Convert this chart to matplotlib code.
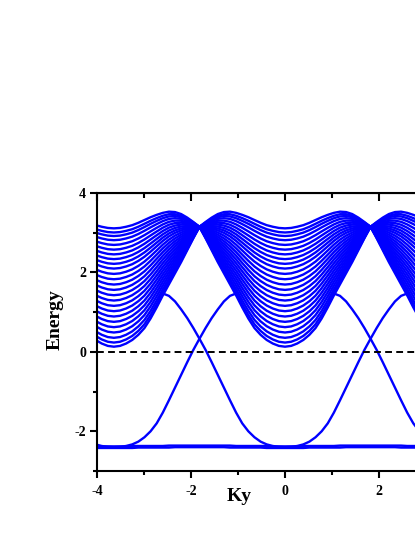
import numpy as np
import matplotlib
matplotlib.use("Agg")
import matplotlib.pyplot as plt

plt.rcParams['font.family'] = 'serif'
plt.rcParams['font.serif'] = ['Liberation Serif', 'DejaVu Serif']
plt.rcParams['font.weight'] = 'bold'
plt.rcParams['axes.unicode_minus'] = False

# one period of the ribbon bands (ky period ~3.64), read on half a period
period = 3.64
k_half = np.array([0.00, 0.13, 0.26, 0.39, 0.52, 0.65, 0.78, 0.91, 1.04, 1.17, 1.30, 1.43, 1.56, 1.69, 1.82])
top_half = np.array([3.11, 3.12, 3.15, 3.19, 3.25, 3.32, 3.39, 3.45, 3.50, 3.53, 3.52, 3.47, 3.38, 3.27, 3.15])
bot_half = np.array([0.13, 0.15, 0.21, 0.30, 0.43, 0.60, 0.84, 1.12, 1.42, 1.70, 1.98, 2.26, 2.56, 2.86, 3.15])
flat_hi_half = np.array([-2.38, -2.38, -2.38, -2.37, -2.37, -2.37, -2.37, -2.37, -2.37, -2.36, -2.36, -2.36, -2.36, -2.36, -2.36])
flat_lo_half = np.array([-2.42, -2.42, -2.42, -2.42, -2.41, -2.41, -2.41, -2.41, -2.41, -2.41, -2.40, -2.40, -2.40, -2.40, -2.40])

# position of each bulk band between lowest and highest band at a given ky
band_frac = [0.0, 0.035, 0.075, 0.12, 0.165, 0.21, 0.255, 0.30, 0.345, 0.39, 0.435, 0.48,
             0.525, 0.57, 0.615, 0.66, 0.70, 0.74, 0.78, 0.82, 0.86, 0.90, 0.935, 0.965, 1.0]

# edge state, energy vs distance from its minimum
d_edge = np.array([0.00, 0.13, 0.26, 0.39, 0.52, 0.65, 0.78, 0.91, 1.04, 1.17, 1.30,
                   1.43, 1.56, 1.69, 1.82, 1.95, 2.08, 2.21, 2.34, 2.47, 2.60])
e_edge = np.array([-2.40, -2.39, -2.37, -2.33, -2.26, -2.15, -2.00, -1.80, -1.53, -1.22, -0.90,
                   -0.58, -0.26, 0.05, 0.33, 0.60, 0.85, 1.07, 1.27, 1.41, 1.47])

xticks = [-4, -2, 0, 2, 4]
xticklabels = ['-4', '-2', '0', '2', '']
yticks = [-2, 0, 2, 4]


def tile(v):
    kp = np.r_[k_half, period - k_half[-2::-1]]
    vp = np.r_[v, v[-2::-1]]
    ks = np.concatenate([kp + m * period for m in range(-2, 2)])
    vs = np.concatenate([vp for m in range(-2, 2)])
    return ks, vs


fig = plt.figure(figsize=(4.15, 5.37), dpi=100)
ax = fig.add_axes([97 / 415, 66 / 537, 376 / 415, 278 / 537])

ky, top = tile(top_half)
_, bot = tile(bot_half)
for f in band_frac:
    ax.plot(ky, bot + f * (top - bot), color='#0000ff', lw=1.7)

for m in range(-2, 3):
    c = m * period
    x = np.r_[c - d_edge[:0:-1], c + d_edge]
    y = np.r_[e_edge[:0:-1], e_edge]
    ax.plot(x, y, color='#0000ff', lw=1.7)

_, fhi = tile(flat_hi_half)
_, flo = tile(flat_lo_half)
ax.plot(ky, fhi, color='#0000ff', lw=1.7)
ax.plot(ky, flo, color='#0000ff', lw=1.7)

ax.axhline(0, color='k', lw=1.4, ls=(0, (3.5, 2.2)), zorder=3)

ax.set_xlim(-4, 4)
ax.set_ylim(-3, 4)
ax.set_xticks(xticks)
ax.set_xticklabels(xticklabels)
ax.set_xticks([-3, -1, 1, 3], minor=True)
ax.set_yticks(yticks)
ax.set_yticks([-3, -1, 1, 3], minor=True)
for s in ax.spines.values():
    s.set_linewidth(1.5)
ax.tick_params(which='major', direction='out', length=5, width=1.5, labelsize=10)
ax.tick_params(which='minor', direction='out', length=3, width=1.5)
ax.tick_params(axis='x', pad=5)
ax.tick_params(axis='y', pad=3)

top_ax = ax.secondary_xaxis('top')
top_ax.set_xticks(xticks)
top_ax.set_xticks([-3, -1, 1, 3], minor=True)
top_ax.tick_params(which='major', direction='in', length=6, width=1.5, labeltop=False)
top_ax.tick_params(which='minor', direction='in', length=3.5, width=1.5)

ax.set_ylabel('Energy', fontsize=14, fontweight='bold')
ax.yaxis.set_label_coords(-0.088, 0.543)
ax.set_xlabel('Ky', fontsize=14, fontweight='bold')
ax.xaxis.set_label_coords(0.378, -0.061)
ax.xaxis.label.set_va('top')

plt.savefig('out.png', dpi=100)
